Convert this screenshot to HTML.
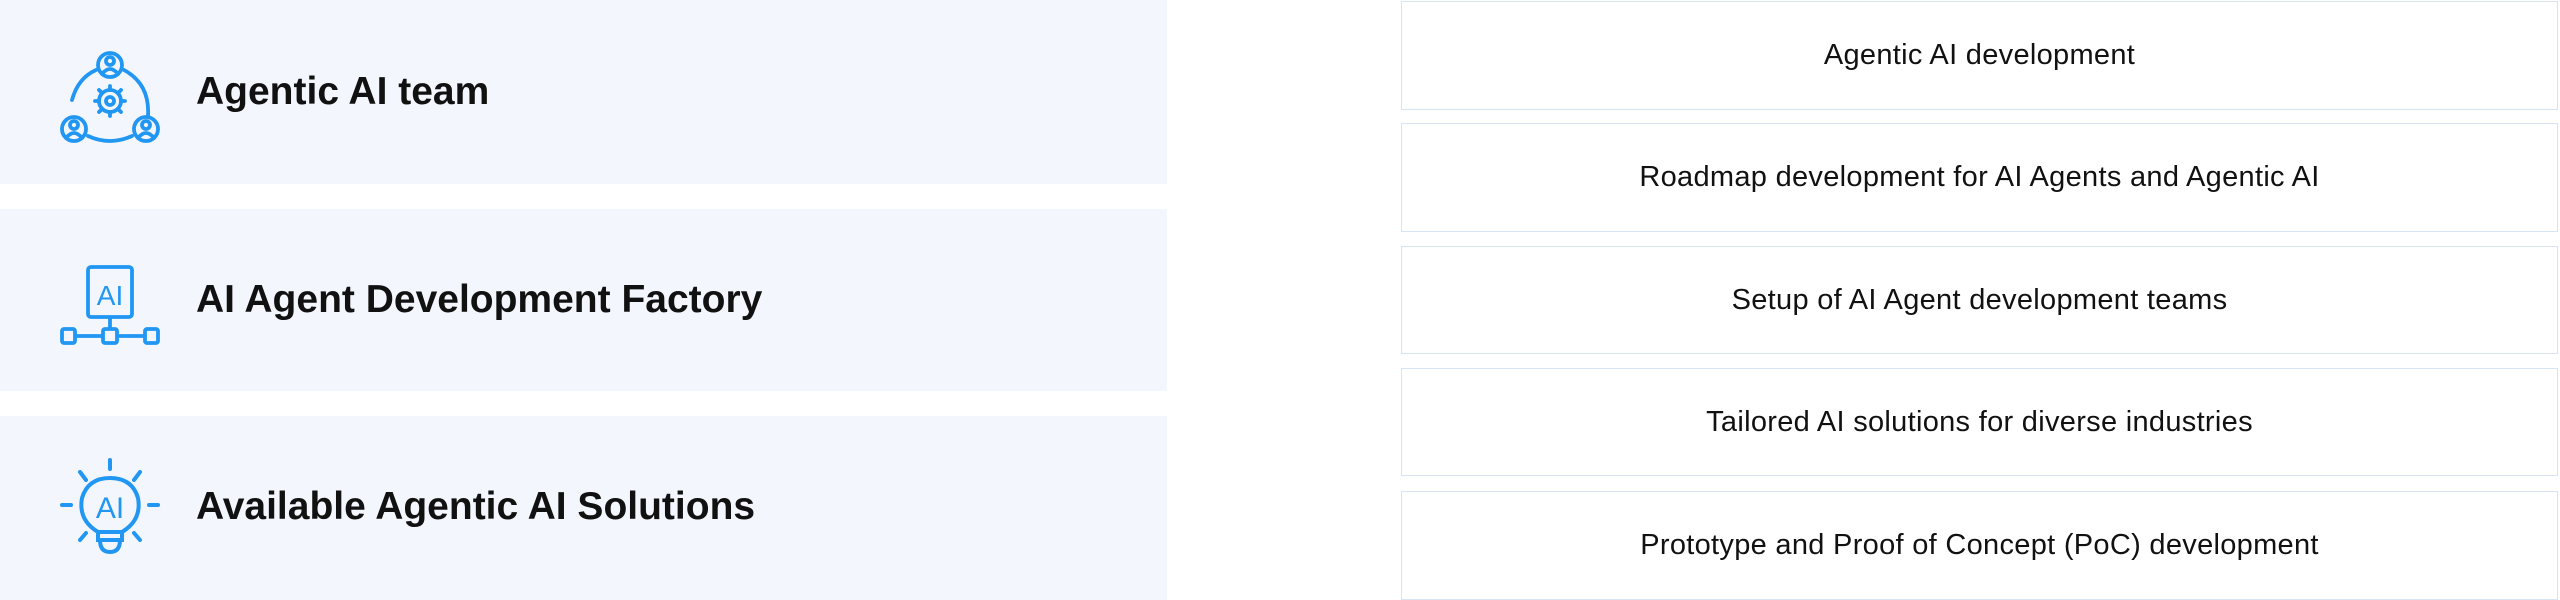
<!DOCTYPE html>
<html><head><meta charset="utf-8"><style>
html,body{margin:0;padding:0;width:2560px;height:600px;background:#fff;overflow:hidden;font-family:"Liberation Sans",sans-serif}
.p{position:absolute;left:0;width:1167px;background:#f3f7fd}
.p .t{position:absolute;left:196px;font-size:39px;font-weight:bold;color:#111;transform:translateY(-50%);white-space:nowrap}
.p svg{position:absolute;left:58px}
.b{position:absolute;left:1401px;width:1157px;border:1.5px solid #d6e4f5;box-sizing:border-box;background:#fff;display:flex;align-items:center;justify-content:center;font-size:29px;letter-spacing:0.3px;color:#111}
</style></head><body>
<div class="p" style="top:0;height:184px">
<svg style="top:48px" width="104" height="96" viewBox="0 0 104 96" fill="none" stroke="#2196f3" stroke-width="3.8" stroke-linecap="round">
<circle cx="52" cy="17" r="12"/><circle cx="52" cy="13" r="4"/><path d="M44 26q8-10 16 0"/>
<circle cx="16" cy="81" r="12"/><circle cx="16" cy="77" r="4"/><path d="M8 90q8-10 16 0"/>
<circle cx="88" cy="81" r="12"/><circle cx="88" cy="77" r="4"/><path d="M80 90q8-10 16 0"/>
<path d="M66 22q26 14 24 46"/><path d="M38 22q-18 8-24 30"/><path d="M30 88q22 10 44 0"/>
<circle cx="52" cy="53" r="11"/><circle cx="52" cy="53" r="4"/>
<path d="M52 38v4M52 64v4M37 53h4M63 53h4M41 42l3 3M60 61l3 3M41 64l3-3M60 45l3-3"/>
</svg>
<div class="t" style="top:92px">Agentic AI team</div></div>
<div class="p" style="top:209px;height:182px">
<svg style="top:56px" width="104" height="84" viewBox="0 0 104 84" fill="none" stroke="#2196f3" stroke-width="3.8">
<rect x="30" y="2" width="44" height="50" rx="3"/>
<text x="52" y="40" font-family="Liberation Sans" font-size="28" fill="#2196f3" stroke="none" text-anchor="middle">AI</text>
<path d="M52 52v14M14 71h76"/>
<rect x="4" y="64" width="13" height="14" rx="2" fill="#f3f7fd"/><rect x="45" y="64" width="14" height="14" rx="2" fill="#f3f7fd"/><rect x="87" y="64" width="13" height="14" rx="2" fill="#f3f7fd"/>
</svg>
<div class="t" style="top:91px">AI Agent Development Factory</div></div>
<div class="p" style="top:416px;height:184px">
<svg style="top:42px" width="104" height="102" viewBox="0 0 104 102" fill="none" stroke="#2196f3" stroke-width="4" stroke-linecap="round">
<path d="M52 2v9M22 14l6 8M82 14l-6 8M4 47h9M91 47h9M22 82l6-7M82 82l-6-7"/>
<path d="M40 74q-20-12-16-34 6-20 28-20 22 0 28 20 4 22-16 34z"/>
<path d="M40 74v8h24v-8M42 82q0 12 10 12t10-12"/>
<text x="52" y="60" font-family="Liberation Sans" font-size="30" fill="#2196f3" stroke="none" text-anchor="middle">AI</text>
</svg>
<div class="t" style="top:91px">Available Agentic AI Solutions</div></div>
<div class="b" style="top:1px;height:109px">Agentic AI development</div>
<div class="b" style="top:123px;height:109px">Roadmap development for AI Agents and Agentic AI</div>
<div class="b" style="top:246px;height:108px">Setup of AI Agent development teams</div>
<div class="b" style="top:368px;height:108px">Tailored AI solutions for diverse industries</div>
<div class="b" style="top:491px;height:109px">Prototype and Proof of Concept (PoC) development</div>
</body></html>
